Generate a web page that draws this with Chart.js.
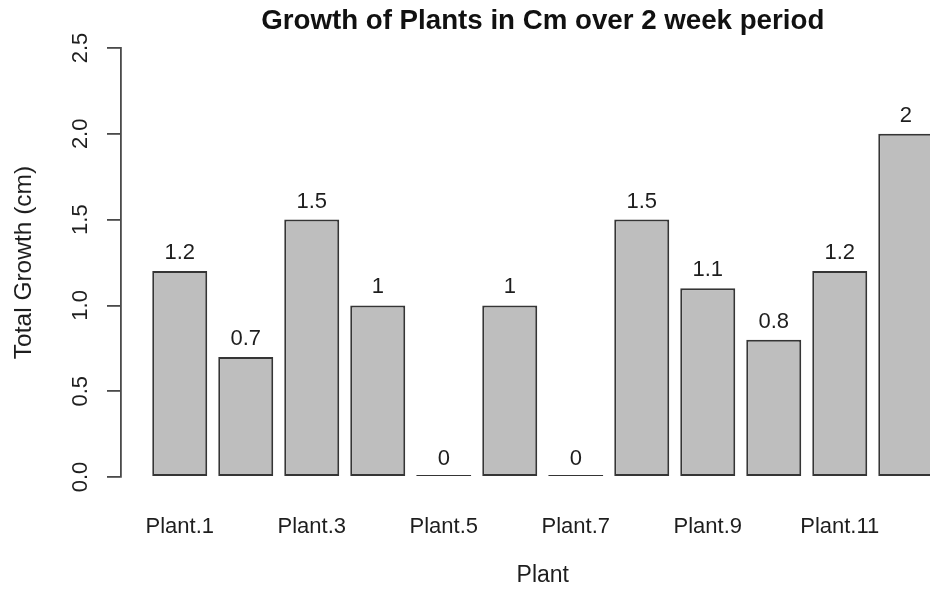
<!DOCTYPE html>
<html>
<head>
<meta charset="utf-8">
<title>Growth of Plants</title>
<script src="https://cdn.jsdelivr.net/npm/chart.js@4.4.1/dist/chart.umd.min.js"></script>
<style>
  html, body { margin: 0; padding: 0; background: #fff; overflow: hidden; }
  /* the R plot region runs a little past the right edge of the picture */
  #wrap { width: 980px; height: 589px; }
</style>
</head>
<body>
<div id="wrap"><canvas id="chart" width="980" height="589"></canvas></div>
<script>
const plants = [
  "Plant.1", "Plant.2", "Plant.3", "Plant.4", "Plant.5", "Plant.6",
  "Plant.7", "Plant.8", "Plant.9", "Plant.10", "Plant.11", "Plant.12",
];
const growth = [1.2, 0.7, 1.5, 1, 0, 1, 0, 1.5, 1.1, 0.8, 1.2, 2];
const yTicks = [0, 0.5, 1, 1.5, 2, 2.5];

const font = '"Liberation Sans", Arial, Helvetica, sans-serif';
const textColor = "#1e1e1e";
const lineColor = "#4a4a4a";

// numbers printed over the bars
const barValues = {
  id: "barValues",
  afterDatasetsDraw(chart) {
    const ctx = chart.ctx;
    const meta = chart.getDatasetMeta(0);
    ctx.save();
    ctx.font = "22px " + font;
    ctx.fillStyle = textColor;
    ctx.textAlign = "center";
    ctx.textBaseline = "alphabetic";
    meta.data.forEach((bar, i) => {
      const top = chart.scales.y.getPixelForValue(growth[i]);
      ctx.fillText(String(growth[i]), bar.x, top - 12);
    });
    ctx.restore();
  },
};

const ctx = document.getElementById("chart");
new Chart(ctx, {
  type: "bar",
  data: {
    datasets: [
      {
        label: "Total Growth (cm)",
        data: growth.map((v, i) => ({ x: i, y: v })),
        backgroundColor: "#bebebe",
        borderColor: "#353535",
        borderWidth: 2,
        borderSkipped: false,
        minBarLength: 2,
        barPercentage: 1 / 1.2,
        categoryPercentage: 1,
        clip: false,
      },
    ],
  },
  options: {
    responsive: false,
    animation: false,
    layout: { padding: { left: 0, right: 15.5, top: 0, bottom: 0 } },
    plugins: {
      legend: { display: false },
      tooltip: { enabled: false },
      title: {
        display: true,
        text: "Growth of Plants in Cm over 2 week period",
        fullSize: false,
        color: "#111",
        font: { family: font, size: 27.7, weight: "bold" },
        padding: { top: 5, bottom: 9.8 },
      },
    },
    scales: {
      x: {
        type: "linear",
        offset: false,
        min: -0.89,
        max: 11.89,
        afterFit: (scale) => { scale.height = 112; },
        afterBuildTicks: (scale) => {
          // R leaves out every other name because they would overlap
          scale.ticks = plants
            .map((p, i) => ({ value: i }))
            .filter((t, i) => i % 2 === 0);
        },
        ticks: {
          autoSkip: false,
          maxRotation: 0,
          padding: 29,
          color: textColor,
          font: { family: font, size: 22 },
          callback: (value) => plants[value],
        },
        grid: { display: false },
        border: { display: false },
        title: {
          display: true,
          text: "Plant",
          color: textColor,
          font: { family: font, size: 23 },
          padding: { top: 0, bottom: 0 },
        },
      },
      y: {
        min: 0,
        max: 2.5,
        afterFit: (scale) => { scale.width = 121; },
        afterBuildTicks: (scale) => {
          scale.ticks = yTicks.map((v) => ({ value: v }));
        },
        ticks: {
          minRotation: 90,
          maxRotation: 90,
          crossAlign: "center",
          padding: 11,
          color: textColor,
          font: { family: font, size: 22 },
          callback: (value) => Number(value).toFixed(1),
        },
        grid: {
          display: true,
          drawOnChartArea: false,
          drawTicks: true,
          tickLength: 14,
          color: lineColor,
          lineWidth: 1.8,
        },
        border: { display: true, color: lineColor, width: 1.8 },
        title: {
          display: true,
          text: "Total Growth (cm)",
          color: textColor,
          font: { family: font, size: 24.5 },
          padding: { top: 10, bottom: 0 },
        },
      },
    },
  },
  plugins: [barValues],
});
</script>
</body>
</html>
